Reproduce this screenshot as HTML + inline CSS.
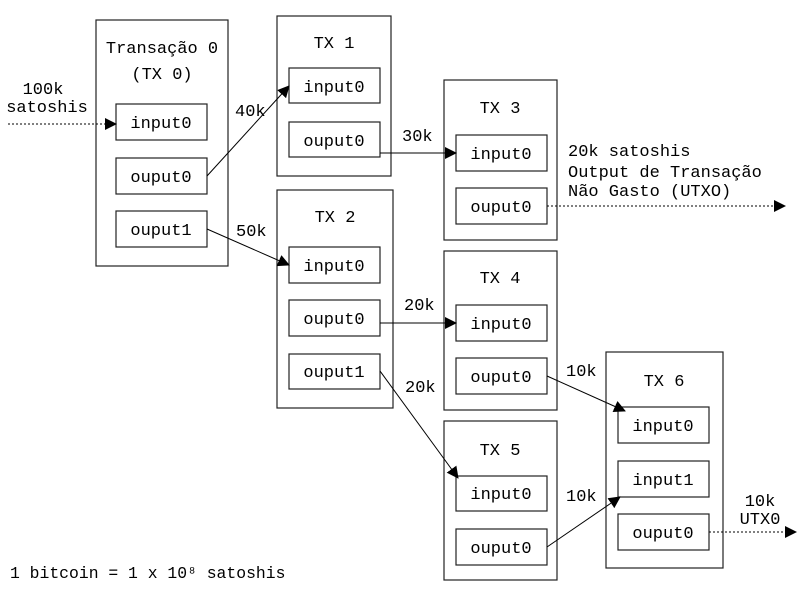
<!DOCTYPE html>
<html><head><meta charset="utf-8"><style>
html,body{margin:0;padding:0;background:#fff;}
svg{display:block;}
text{font-family:"Liberation Mono","DejaVu Sans Mono",monospace;font-size:17px;fill:#000;}
</style></head><body>
<svg width="800" height="591" viewBox="0 0 800 591" xmlns="http://www.w3.org/2000/svg">
<defs>
<marker id="a" markerWidth="12" markerHeight="12" refX="11" refY="6" orient="auto" markerUnits="userSpaceOnUse">
<path d="M0,0 L12,6 L0,12 Z" fill="#000"/></marker>
</defs>
<g fill="#fff" stroke="#222" stroke-width="1.2">
<rect x="96" y="20" width="132" height="246"/>
<rect x="277" y="16" width="114" height="160"/>
<rect x="277" y="190" width="116" height="218"/>
<rect x="444" y="80" width="113" height="160"/>
<rect x="444" y="251" width="113" height="159"/>
<rect x="444" y="421" width="113" height="159"/>
<rect x="606" y="352" width="117" height="216"/>
<rect x="116" y="104" width="91" height="36"/>
<rect x="116" y="158" width="91" height="36"/>
<rect x="116" y="211" width="91" height="36"/>
<rect x="289" y="68" width="91" height="35"/>
<rect x="289" y="122" width="91" height="35"/>
<rect x="289" y="247" width="91" height="36"/>
<rect x="289" y="300" width="91" height="36"/>
<rect x="289" y="354" width="91" height="35"/>
<rect x="456" y="135" width="91" height="36"/>
<rect x="456" y="188" width="91" height="36"/>
<rect x="456" y="305" width="91" height="36"/>
<rect x="456" y="358" width="91" height="36"/>
<rect x="456" y="476" width="91" height="35"/>
<rect x="456" y="529" width="91" height="36"/>
<rect x="618" y="407" width="91" height="36"/>
<rect x="618" y="461" width="91" height="36"/>
<rect x="618" y="514" width="91" height="36"/>
</g>
<g stroke="#000" stroke-width="1" fill="none">
<line x1="8" y1="124" x2="116" y2="124" stroke-dasharray="2,2" marker-end="url(#a)"/>
<line x1="207" y1="176" x2="289" y2="86" marker-end="url(#a)"/>
<line x1="207" y1="229" x2="289" y2="265" marker-end="url(#a)"/>
<line x1="380" y1="153" x2="456" y2="153" marker-end="url(#a)"/>
<line x1="380" y1="323" x2="456" y2="323" marker-end="url(#a)"/>
<line x1="380" y1="371" x2="458" y2="478" marker-end="url(#a)"/>
<line x1="547" y1="206" x2="785" y2="206" stroke-dasharray="2,2" marker-end="url(#a)"/>
<line x1="547" y1="376" x2="625" y2="411" marker-end="url(#a)"/>
<line x1="547" y1="547" x2="620" y2="497" marker-end="url(#a)"/>
<line x1="709" y1="532" x2="796" y2="532" stroke-dasharray="2,2" marker-end="url(#a)"/>
</g>
<g text-anchor="middle">
<text x="162" y="53">Transação 0</text>
<text x="162" y="79">(TX 0)</text>
<text x="334" y="48">TX 1</text>
<text x="335" y="222">TX 2</text>
<text x="500" y="113">TX 3</text>
<text x="500" y="283">TX 4</text>
<text x="500" y="455">TX 5</text>
<text x="664" y="386">TX 6</text>
<text x="161" y="128">input0</text>
<text x="161" y="182">ouput0</text>
<text x="161" y="235">ouput1</text>
<text x="334" y="92">input0</text>
<text x="334" y="146">ouput0</text>
<text x="334" y="271">input0</text>
<text x="334" y="324">ouput0</text>
<text x="334" y="377">ouput1</text>
<text x="501" y="159">input0</text>
<text x="501" y="212">ouput0</text>
<text x="501" y="329">input0</text>
<text x="501" y="382">ouput0</text>
<text x="501" y="499">input0</text>
<text x="501" y="553">ouput0</text>
<text x="663" y="431">input0</text>
<text x="663" y="485">input1</text>
<text x="663" y="538">ouput0</text>
<text x="43" y="94">100k</text>
<text x="47" y="112">satoshis</text>
<text x="760" y="506">10k</text>
<text x="760" y="524">UTX0</text>
</g>
<text x="235" y="116">40k</text>
<text x="236" y="236">50k</text>
<text x="402" y="141">30k</text>
<text x="404" y="310">20k</text>
<text x="405" y="392">20k</text>
<text x="566" y="376">10k</text>
<text x="566" y="501">10k</text>
<text x="568" y="156">20k satoshis</text>
<text x="568" y="177">Output de Transação</text>
<text x="568" y="196">Não Gasto (UTXO)</text>
<text x="10" y="578" style="font-size:16.4px">1 bitcoin = 1 x 10⁸ satoshis</text>
</svg>
</body></html>
